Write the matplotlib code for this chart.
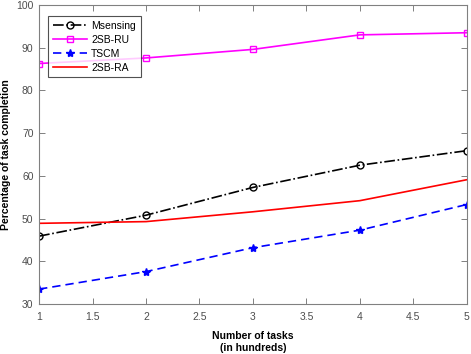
import matplotlib
matplotlib.use("Agg")
import matplotlib.pyplot as plt

x = [1, 2, 3, 4, 5]
msensing = [45.9, 50.8, 57.3, 62.5, 65.9]
sb_ru = [86.3, 87.6, 89.6, 93.0, 93.5]
tscm = [33.5, 37.6, 43.2, 47.3, 53.3]
sb_ra = [48.9, 49.3, 51.6, 54.2, 59.1]

xticks = [1, 1.5, 2, 2.5, 3, 3.5, 4, 4.5, 5]
xticklabels = ["1", "1.5", "2", "2.5", "3", "3.5", "4", "4.5", "5"]
yticks = [30, 40, 50, 60, 70, 80, 90, 100]

plt.rcParams['font.family'] = ['Liberation Sans', 'DejaVu Sans']
fig = plt.figure(figsize=(4.71, 3.54), dpi=100)
ax = fig.add_axes([0.083, 0.141, 0.908, 0.845])

ax.plot(x, msensing, color='black', linestyle='-.', marker='o', markerfacecolor='none',
        markersize=5, linewidth=1.2, label='Msensing')
ax.plot(x, sb_ru, color='#FF00FF', linestyle='-', marker='s', markerfacecolor='none',
        markersize=5, linewidth=1.2, label='2SB-RU')
ax.plot(x, tscm, color='#0000FF', linestyle=(0, (5, 3)), marker='*', markersize=6,
        linewidth=1.2, label='TSCM')
ax.plot(x, sb_ra, color='#FF0000', linestyle='-', linewidth=1.2, label='2SB-RA')

ax.set_xlim(1, 5)
ax.set_ylim(30, 100)
ax.set_xticks(xticks)
ax.set_xticklabels(xticklabels)
ax.set_yticks(yticks)

grey = '#808080'
for s in ax.spines.values():
    s.set_color(grey)
    s.set_linewidth(0.8)
ax.tick_params(direction='in', top=True, right=True, length=4, width=0.7,
               colors=grey, labelcolor='#4d4d4d', labelsize=7.5)
ax.tick_params(axis='x', pad=6)
ax.tick_params(axis='y', pad=4)

ax.set_xlabel('Number of tasks\n(in hundreds)', fontsize=7.5, fontweight='bold',
              linespacing=1.3, labelpad=6)
ax.set_ylabel('Percentage of task completion', fontsize=7.5, fontweight='bold', labelpad=4)

leg = ax.legend(loc='upper left', bbox_to_anchor=(0.021, 0.963), borderaxespad=0,
                fontsize=7.5, frameon=True, fancybox=False, edgecolor='#262626',
                handlelength=3.3, borderpad=0.45, labelspacing=0.38, handletextpad=0.4)
leg.get_frame().set_linewidth(0.8)

fig.savefig('out.png', dpi=100)
